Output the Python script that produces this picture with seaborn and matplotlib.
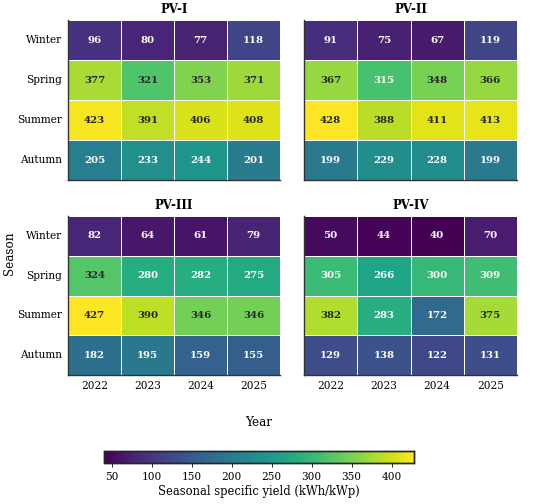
import numpy as np
import pandas as pd
import matplotlib
matplotlib.use("Agg")
import matplotlib.pyplot as plt
import seaborn as sns

sns.set_style("white")
plt.rcParams['font.family'] = ['DejaVu Serif']
plt.rcParams['text.color'] = 'black'
plt.rcParams['axes.labelcolor'] = 'black'
plt.rcParams['xtick.color'] = 'black'
plt.rcParams['ytick.color'] = 'black'

# Data
seasons = ["Winter", "Spring", "Summer", "Autumn"]
years = ["2022", "2023", "2024", "2025"]
plants = ["PV-I", "PV-II", "PV-III", "PV-IV"]

pv1 = [[96, 80, 77, 118],
       [377, 321, 353, 371],
       [423, 391, 406, 408],
       [205, 233, 244, 201]]
pv2 = [[91, 75, 67, 119],
       [367, 315, 348, 366],
       [428, 388, 411, 413],
       [199, 229, 228, 199]]
pv3 = [[82, 64, 61, 79],
       [324, 280, 282, 275],
       [427, 390, 346, 346],
       [182, 195, 159, 155]]
pv4 = [[50, 44, 40, 70],
       [305, 266, 300, 309],
       [382, 283, 172, 375],
       [129, 138, 122, 131]]

tables = [pd.DataFrame(d, index=seasons, columns=years) for d in [pv1, pv2, pv3, pv4]]
vmin = min(t.values.min() for t in tables)
vmax = max(t.values.max() for t in tables)

fig = plt.figure(figsize=(5.5, 5.04), dpi=100)
W, H = 550, 504
# axes boxes in pixels: left, top, right, bottom
boxes = [(68, 20, 280, 180), (304, 20, 517, 180),
         (68, 216, 280, 375), (304, 216, 517, 375)]
cax = fig.add_axes([104 / W, 1 - 463 / H, 310 / W, 12 / H])

for i, (df, name, b) in enumerate(zip(tables, plants, boxes)):
    ax = fig.add_axes([b[0] / W, 1 - b[3] / H, (b[2] - b[0]) / W, (b[3] - b[1]) / H])
    sns.heatmap(df, ax=ax, cmap="viridis", vmin=vmin, vmax=vmax,
                annot=True, fmt="d", linewidths=0.7, linecolor="white",
                annot_kws={"fontsize": 7.4, "fontweight": "bold"},
                cbar=(i == 0), cbar_ax=cax if i == 0 else None,
                cbar_kws={"orientation": "horizontal"})
    ax.set_title(name, fontsize=8.5, fontweight="bold", pad=5)
    ax.set_xlabel("")
    ax.set_ylabel("")
    ax.tick_params(length=0, labelsize=7.6, pad=4)
    ax.tick_params(axis="y", rotation=0)
    if i % 2 == 1:
        ax.set_yticklabels([])
    if i < 2:
        ax.set_xticklabels([])
    for s in ["left", "bottom"]:
        ax.spines[s].set_visible(True)
        ax.spines[s].set_color("#333333")
        ax.spines[s].set_linewidth(1)

cax.tick_params(labelsize=7.6, length=3, width=0.6)
cax.set_xlabel("Seasonal specific yield (kWh/kWp)", fontsize=8.3, labelpad=2)
for s in cax.spines.values():
    s.set_visible(True)
    s.set_linewidth(1)

fig.text(259 / W, 1 - 422 / H, "Year", ha="center", va="center", fontsize=8.6)
fig.text(10 / W, 1 - 253 / H, "Season", ha="center", va="center", rotation=90, fontsize=8.6)

fig.savefig("out.png", dpi=100)
